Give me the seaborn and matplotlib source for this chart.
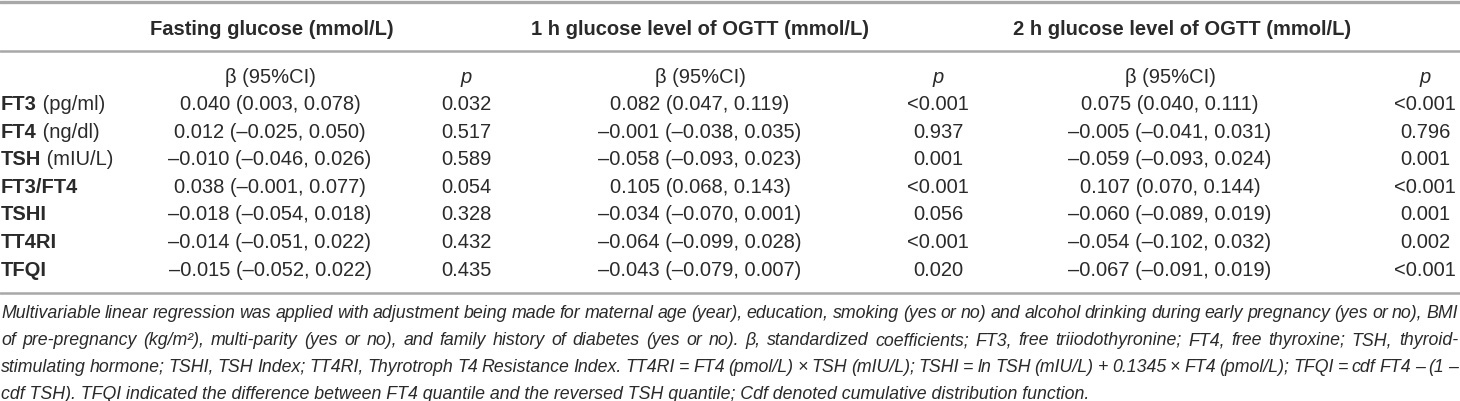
import matplotlib
matplotlib.use("Agg")
import matplotlib.pyplot as plt
import seaborn as sns
import pandas as pd

# ---- table contents ----
groups = ["Fasting glucose (mmol/L)",
          "1 h glucose level of OGTT (mmol/L)",
          "2 h glucose level of OGTT (mmol/L)"]
label_bold = ["FT3", "FT4", "TSH", "FT3/FT4", "TSHI", "TT4RI", "TFQI"]
label_unit = [" (pg/ml)", " (ng/dl)", " (mIU/L)", "", "", "", ""]

beta_fasting = ["0.040 (0.003, 0.078)", "0.012 (–0.025, 0.050)", "–0.010 (–0.046, 0.026)",
                "0.038 (–0.001, 0.077)", "–0.018 (–0.054, 0.018)", "–0.014 (–0.051, 0.022)",
                "–0.015 (–0.052, 0.022)"]
p_fasting = ["0.032", "0.517", "0.589", "0.054", "0.328", "0.432", "0.435"]

beta_1h = ["0.082 (0.047, 0.119)", "–0.001 (–0.038, 0.035)", "–0.058 (–0.093, 0.023)",
           "0.105 (0.068, 0.143)", "–0.034 (–0.070, 0.001)", "–0.064 (–0.099, 0.028)",
           "–0.043 (–0.079, 0.007)"]
p_1h = ["<0.001", "0.937", "0.001", "<0.001", "0.056", "<0.001", "0.020"]

beta_2h = ["0.075 (0.040, 0.111)", "–0.005 (–0.041, 0.031)", "–0.059 (–0.093, 0.024)",
           "0.107 (0.070, 0.144)", "–0.060 (–0.089, 0.019)", "–0.054 (–0.102, 0.032)",
           "–0.067 (–0.091, 0.019)"]
p_2h = ["<0.001", "0.796", "0.001", "<0.001", "0.001", "0.002", "<0.001"]

footnote = [
    "Multivariable linear regression was applied with adjustment being made for maternal age (year), "
    "education, smoking (yes or no) and alcohol drinking during early pregnancy (yes or no), BMI",
    "of pre-pregnancy (kg/m²), multi-parity (yes or no), and family history of diabetes (yes or no). "
    "β, standardized coefficients; FT3, free triiodothyronine; FT4, free thyroxine; TSH, thyroid-",
    "stimulating hormone; TSHI, TSH Index; TT4RI, Thyrotroph T4 Resistance Index. TT4RI = FT4 (pmol/L) "
    "× TSH (mIU/L); TSHI = ln TSH (mIU/L) + 0.1345 × FT4 (pmol/L); TFQI = cdf FT4 – (1 –",
    "cdf TSH). TFQI indicated the difference between FT4 quantile and the reversed TSH quantile; "
    "Cdf denoted cumulative distribution function.",
]

df = pd.DataFrame({"b1": beta_fasting, "p1": p_fasting,
                   "b2": beta_1h, "p2": p_1h,
                   "b3": beta_2h, "p3": p_2h})

# ---- layout (pixels) ----
W, H = 1460, 401
col_x = {"b1": 270, "p1": 466, "b2": 700, "p2": 938, "b3": 1170, "p3": 1425}
group_x = [272, 700, 1182]
txt_color = "#2a2a2a"
rule_color = "#a8a8a8"
fs = 14.5

sns.set_theme(style="white")
plt.rcParams["font.family"] = ["Liberation Sans", "DejaVu Sans"]

fig, ax = plt.subplots(figsize=(W / 100, H / 100), dpi=100)
fig.subplots_adjust(left=0, right=1, bottom=0, top=1)
ax.set_xlim(0, W)
ax.set_ylim(H, 0)
ax.axis("off")

# horizontal rules
for y, lw in [(1.5, 2.4), (51, 1.8), (293, 1.8)]:
    ax.axhline(y, color=rule_color, lw=lw)

# group headers
for g, x in zip(groups, group_x):
    ax.text(x, 35, g, ha="center", va="baseline", fontsize=fs,
            fontweight="bold", color=txt_color)

# sub headers
for k in ["b1", "b2", "b3"]:
    ax.text(col_x[k], 83, "β (95%CI)", ha="center", va="baseline",
            fontsize=fs, color=txt_color)
for k in ["p1", "p2", "p3"]:
    ax.text(col_x[k], 83, "p", ha="center", va="baseline", fontsize=fs,
            style="italic", color=txt_color)

# body rows
row_y0, row_dy = 110, 27.6
for i, row in df.iterrows():
    y = row_y0 + i * row_dy
    t = ax.text(1, y, label_bold[i], ha="left", va="baseline", fontsize=fs,
                fontweight="bold", color=txt_color)
    if label_unit[i]:
        ax.annotate(label_unit[i], xy=(1, 0), xycoords=t, ha="left",
                    va="bottom", fontsize=fs, color=txt_color)
    for k in df.columns:
        ax.text(col_x[k], y, row[k], ha="center", va="baseline",
                fontsize=fs, color=txt_color)

# footnote, justified to the full width except the last line
renderer = fig.canvas.get_renderer()
foot_y0, foot_dy = 318, 27
fkw = dict(fontsize=12.8, style="italic", color=txt_color, va="baseline", ha="left")
for j, line in enumerate(footnote):
    y = foot_y0 + j * foot_dy
    if j == len(footnote) - 1:
        ax.text(1, y, line, **fkw)
        continue
    words = line.split(" ")
    arts = [ax.text(0, y, w, **fkw) for w in words]
    widths = [a.get_window_extent(renderer).width for a in arts]
    gap = (W - 3 - sum(widths)) / (len(words) - 1)
    x = 1
    for a, w in zip(arts, widths):
        a.set_x(x)
        x += w + gap

fig.savefig("out.png", dpi=100)
